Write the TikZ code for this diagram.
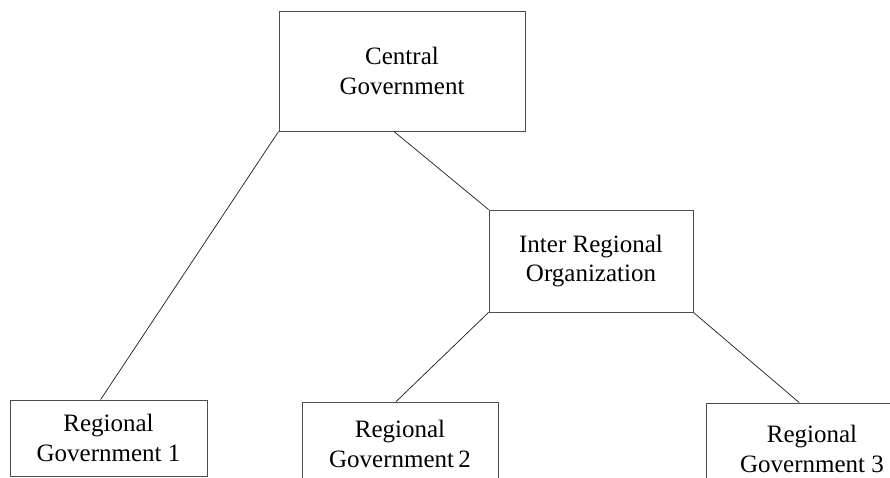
\documentclass[tikz,border=0pt]{standalone}
\usepackage{fontspec}
\setmainfont{Liberation Serif}
\usepackage{tikz}
\usetikzlibrary{calc}

\tikzset{
    govbox/.style={draw=black!70, line width=0.8pt, inner sep=0pt, align=center,
        font=\fontsize{25}{29.5}\selectfont},
    link/.style={draw=black!85, line width=0.75pt}
}

\begin{document}
\begin{tikzpicture}[x=1pt, y=-1pt]
    \useasboundingbox (0,0) rectangle (890,477);
    \clip (0,0) rectangle (890,477);

    % Top level
    \node[govbox, minimum width=246, minimum height=120] (central) at (402,71) {Central\\Government};

    % Middle level
    \node[govbox, minimum width=204, minimum height=102] (inter) at (591,261) {Inter Regional\\Organization};

    % Regions
    \node[govbox, minimum width=197, minimum height=76] (reg1) at (108.5,438) {Regional\\Government 1};
    \node[govbox, minimum width=196, minimum height=84] (reg2) at (400,444) {Regional\\Government\,2};
    \node[govbox, minimum width=212, minimum height=92] (reg3) at (812,449) {Regional\\Government 3};

    % Links
    \draw[link] (central.south west) -- ($(reg1.north west)!0.46!(reg1.north east)$);
    \draw[link] ($(central.south west)!0.467!(central.south east)$) -- (inter.north west);
    \draw[link] (inter.south west) -- ($(reg2.north west)!0.48!(reg2.north east)$);
    \draw[link] (inter.south east) -- ($(reg3.north west)!0.44!(reg3.north east)$);
\end{tikzpicture}
\end{document}
